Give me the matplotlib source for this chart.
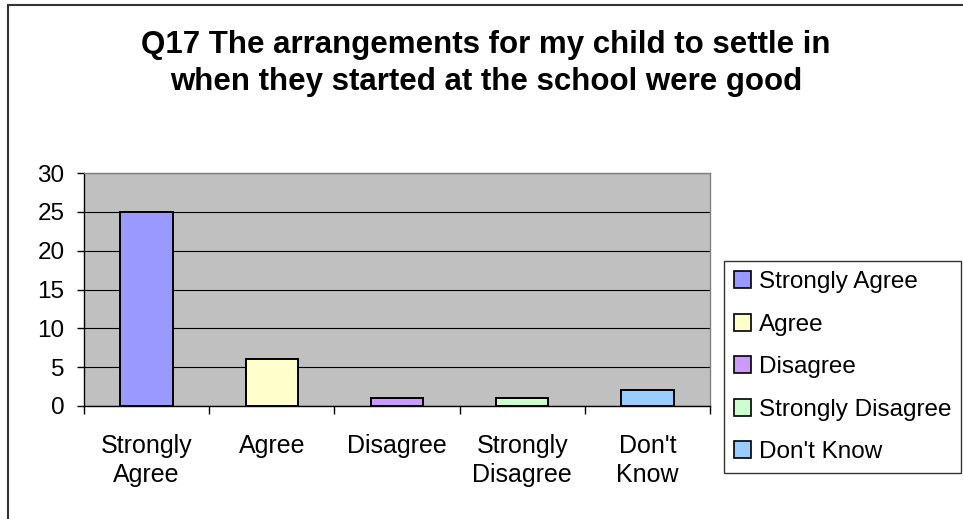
import matplotlib
matplotlib.use("Agg")
import matplotlib.pyplot as plt
from matplotlib.patches import Patch, Rectangle
import numpy as np

plt.rcParams["font.family"] = ["Liberation Sans", "DejaVu Sans"]

categories = ["Strongly Agree", "Agree", "Disagree", "Strongly Disagree", "Don't Know"]
tick_labels = ["Strongly\nAgree", "Agree", "Disagree", "Strongly\nDisagree", "Don't\nKnow"]
counts = [25, 6, 1, 1, 2]
colors = ["#9999FF", "#FFFFCC", "#CC99FF", "#CCFFCC", "#99CCFF"]
title = "Q17 The arrangements for my child to settle in\nwhen they started at the school were good"

fig = plt.figure(figsize=(9.63, 5.19), dpi=100)

# chart border (only left and top edges are visible in the crop)
fig.patches.append(Rectangle((8 / 963, -0.1), 1.2, 1 - 5 / 519 + 0.1,
                             transform=fig.transFigure, fill=False,
                             edgecolor="#333333", linewidth=1.5))

ax = fig.add_axes([84 / 963, 1 - 406 / 519, (710 - 84) / 963, (406 - 173) / 519])
ax.set_facecolor("#C0C0C0")

x = np.arange(len(categories))
ax.bar(x, counts, 0.42, color=colors, edgecolor="black", linewidth=1.4, zorder=3)

ax.set_xlim(-0.5, len(categories) - 0.5)
ax.set_ylim(0, 30)
ax.set_yticks(range(0, 31, 5))
ax.yaxis.grid(True, color="black", linewidth=0.8, zorder=1)
ax.set_axisbelow(True)

ax.set_xticks(x)
ax.set_xticklabels(tick_labels, fontsize=18, linespacing=1.3)
ax.set_xticks(np.arange(-0.5, len(categories)), minor=True)
ax.tick_params(axis="x", which="major", length=0, pad=20)
ax.tick_params(axis="x", which="minor", length=6, width=1, direction="out")
ax.tick_params(axis="y", labelsize=17.5, length=5, width=1, direction="out", pad=9)

for s in ["left", "bottom"]:
    ax.spines[s].set_color("black")
    ax.spines[s].set_linewidth(1)
for s in ["top", "right"]:
    ax.spines[s].set_color("#808080")
    ax.spines[s].set_linewidth(1)

fig.text(486 / 963, 1 - 30 / 519, title, ha="center", va="top",
         fontsize=22.5, fontweight="bold", linespacing=1.32)

handles = [Patch(facecolor=c, edgecolor="black", linewidth=1.2) for c in colors]
leg = fig.legend(handles, categories, loc="upper left",
                 bbox_to_anchor=(724 / 963, 1 - 261 / 519), fontsize=17.5,
                 frameon=True, fancybox=False, shadow=False, borderaxespad=0,
                 handlelength=0.7, handleheight=0.7, handletextpad=0.3,
                 labelspacing=0.84, borderpad=0.42)
leg.get_frame().set_edgecolor("black")
leg.get_frame().set_linewidth(1)

fig.savefig("out.png", dpi=100)
